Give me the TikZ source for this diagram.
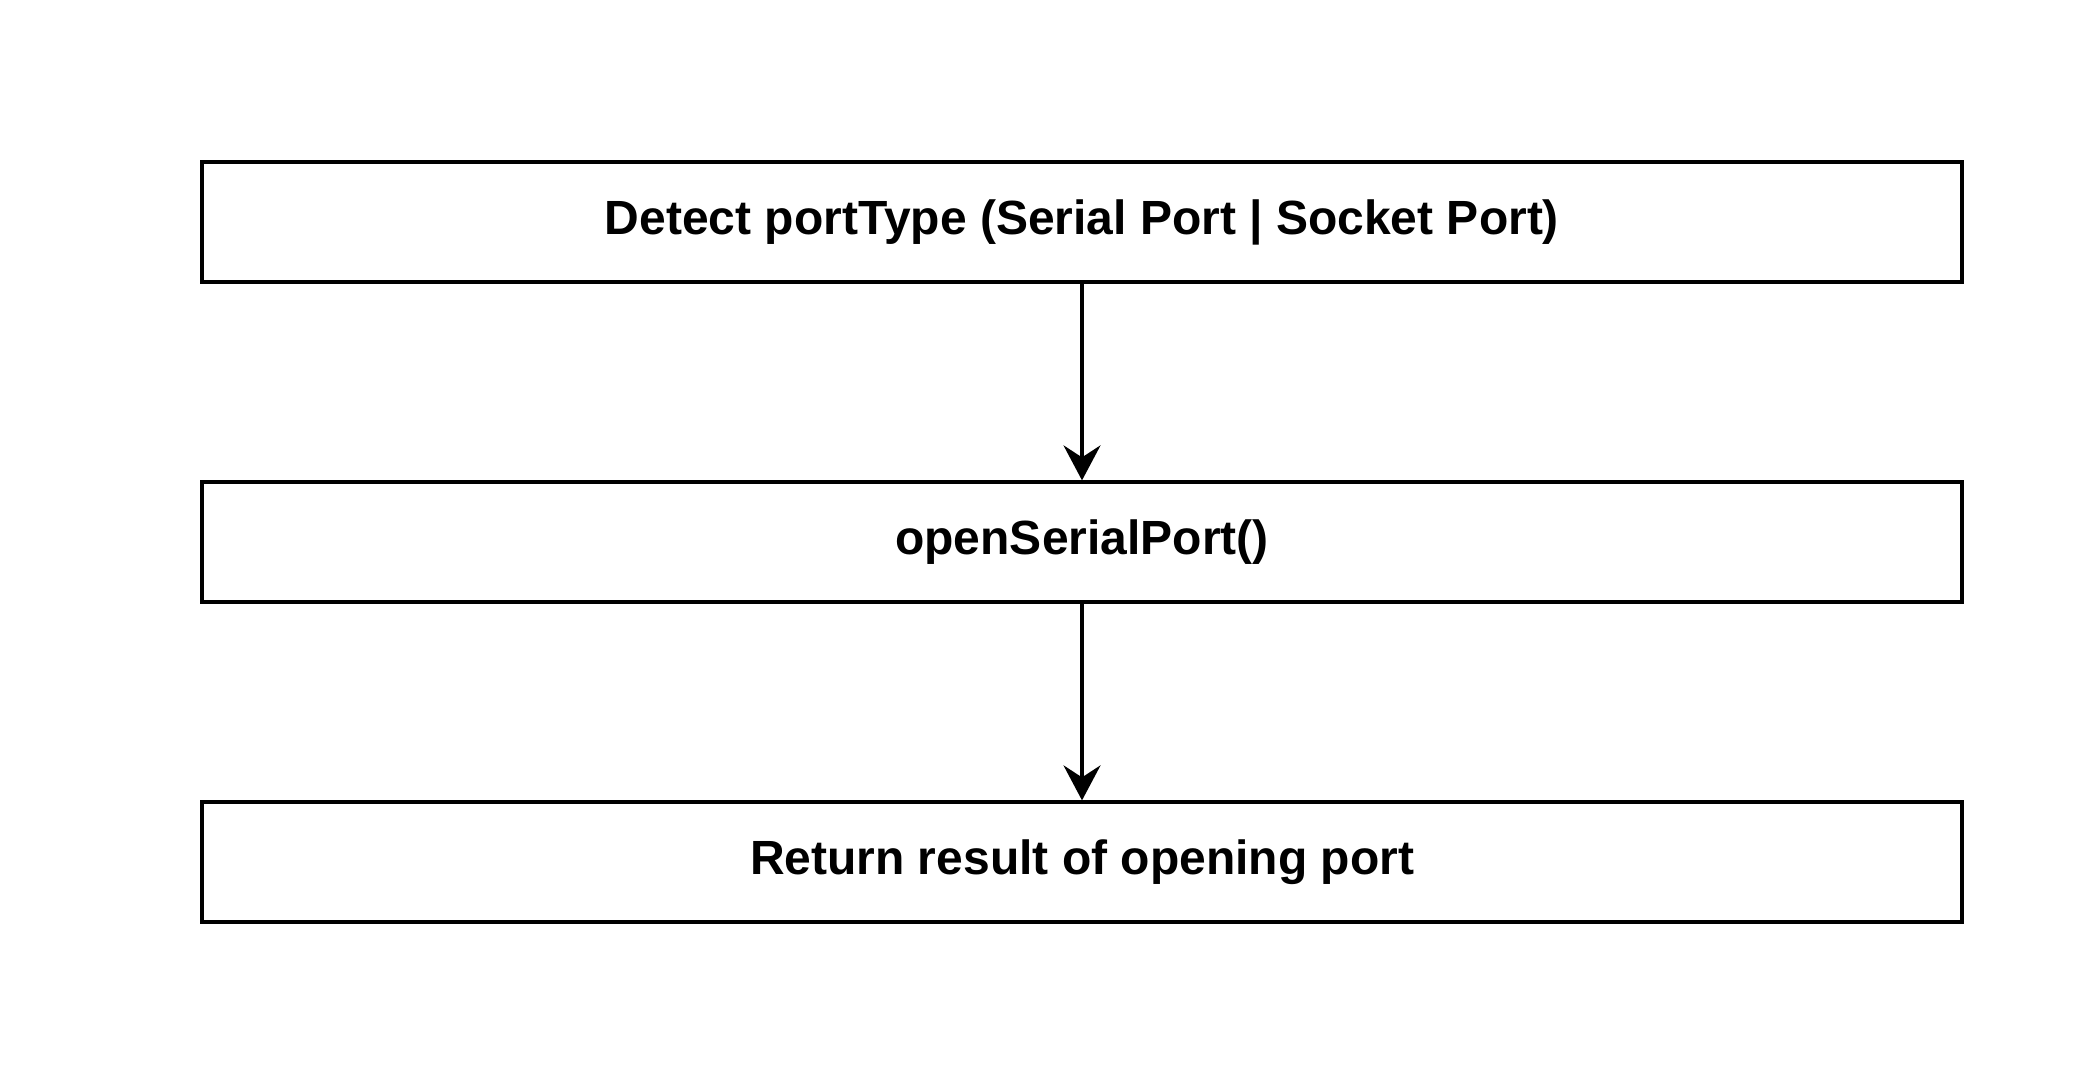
\documentclass[tikz,border=0pt]{standalone}
\usepackage{fontspec}
\setmainfont{Liberation Sans}
\usetikzlibrary{positioning,shapes,arrows.meta}

\begin{document}
\begin{tikzpicture}
    [x=0.5pt,y=-0.5pt,auto=left,every node/.style={draw, line width=1.65pt, rectangle, inner sep = 0pt, minimum width = 880pt, minimum height = 60pt, font=\fontsize{24}{28}\selectfont\bfseries}]
  \useasboundingbox (0,0) rectangle (2088,1084);

  \node (detect) at (1082,222) {Detect portType (Serial Port | Socket Port)};
  \node (open) at (1082,542) {openSerialPort()};
  \node (result) at (1082,862) {Return result of opening port};

  \foreach \from/\to in {detect/open, open/result}
    \draw[line width=1.65pt, -{Stealth[length=17.5pt, width=18.5pt, inset=6pt]}] (\from) -- (\to);
\end{tikzpicture}
\end{document}
